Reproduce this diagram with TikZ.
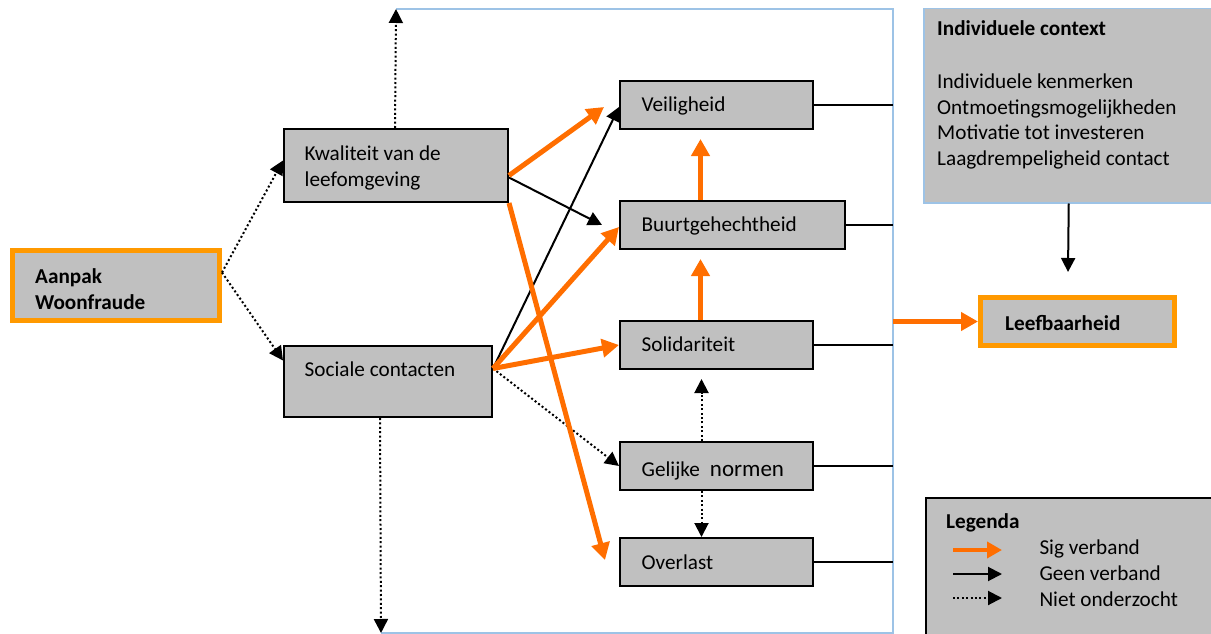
\documentclass[tikz,border=0pt]{standalone}
\usepackage{fontspec}
\setmainfont{Carlito}
\usetikzlibrary{arrows.meta}
\definecolor{arrorange}{RGB}{255,110,0}
\definecolor{boxorange}{RGB}{255,153,0}
\definecolor{boxgray}{RGB}{192,192,192}
\definecolor{framblue}{RGB}{157,195,230}
\tikzset{
  every node/.style={font=\fontsize{21.2}{26}\selectfont},
  txt/.style={anchor=base west, inner sep=0pt},
  gbox/.style={draw=black, line width=2pt, fill=boxgray, rectangle, inner sep=0pt},
  obox/.style={draw=boxorange, line width=5pt, fill=boxgray, rectangle, inner sep=0pt},
  sigarr/.style={draw=arrorange, line width=5pt, -{Triangle[length=17pt,width=18pt]}},
  geenarr/.style={draw=black, line width=2pt, -{Triangle[length=14pt,width=14pt]}},
  nietarr/.style={draw=black, line width=2pt, dash pattern=on 2pt off 2.4pt, -{Triangle[length=14pt,width=14pt]}},
  plain/.style={draw=black, line width=2pt},
}
\begin{document}
\begin{tikzpicture}[x=1pt,y=-1pt]
\useasboundingbox (0,0) rectangle (1211,634);
% frame
\coordinate (ftl) at (396,9);
\coordinate (ftr) at (893,9);
\coordinate (fbr) at (893,633);
\coordinate (fbl) at (381,633);
\draw[framblue, line width=2pt] (ftl) -- (ftr) -- (fbr) -- (fbl);

% boxes
\node[obox, minimum width=207pt, minimum height=70pt] (aanpak) at (116,285.5) {};
\node[gbox, minimum width=224pt, minimum height=73pt] (kw) at (396,165.5) {};
\node[gbox, minimum width=208pt, minimum height=71pt] (soc) at (388,381.5) {};
\node[gbox, minimum width=193pt, minimum height=48pt] (veil) at (716.5,105) {};
\node[gbox, minimum width=225pt, minimum height=48pt] (buurt) at (732.5,225) {};
\node[gbox, minimum width=193pt, minimum height=48pt] (solid) at (716.5,345) {};
\node[gbox, minimum width=193pt, minimum height=48pt] (gel) at (716.5,466) {};
\node[gbox, minimum width=193pt, minimum height=48pt] (over) at (716.5,562) {};
\node[obox, minimum width=194pt, minimum height=48pt] (leef) at (1077.5,321.5) {};
\node[draw=framblue, line width=1.5pt, fill=boxgray, minimum width=290pt, minimum height=194pt, anchor=north west, inner sep=0pt] (ctx) at (923,8) {};
\node[gbox, minimum width=290pt, minimum height=150pt, anchor=north west] (leg) at (925,497) {};

% texts
\node[txt] (t1) at (35,283.5) {\textbf{Aanpak}};
\node[txt] (t2) at (35,309.5) {\textbf{Woonfraude}};
\node[txt] (t3) at (304.5,160.7) {Kwaliteit van de};
\node[txt] (t4) at (304.5,186.7) {leefomgeving};
\node[txt] (t5) at (304.5,376.7) {Sociale contacten};
\node[txt] (t6) at (641.5,111.7) {Veiligheid};
\node[txt] (t7) at (641.5,231.7) {Buurtgehechtheid};
\node[txt] (t8) at (641.5,351.7) {Solidariteit};
\node[txt] (t9) at (641.5,476.5) {Gelijke\hspace{10pt}{\fontsize{23}{26}\selectfont normen}};
\node[txt] (t10) at (641.5,569.3) {Overlast};
\node[txt] (t11) at (1005,330) {\textbf{Leefbaarheid}};
\node[txt] (t12) at (937,36) {\textbf{Individuele context}};
\node[txt] (t13) at (937,88.3) {Individuele kenmerken};
\node[txt] (t14) at (937,114) {Ontmoetingsmogelijkheden};
\node[txt] (t15) at (937,139.7) {Motivatie tot investeren};
\node[txt] (t16) at (937,165.4) {Laagdrempeligheid contact};
\node[txt] (legt) at (946,528) {\textbf{Legenda}};
\node[txt] (l1) at (1039.3,554) {Sig verband};
\node[txt] (l2) at (1039.3,580) {Geen verband};
\node[txt] (l3) at (1039.3,606.5) {Niet onderzocht};

% legend arrows
\coordinate (l1a) at (953,550);
\coordinate (l1b) at (1002,550);
\coordinate (l2a) at (953,574);
\coordinate (l2b) at (1002,574);
\coordinate (l3a) at (953,598);
\coordinate (l3b) at (1002,598);
\draw[sigarr, line width=4.5pt, -{Triangle[length=15pt,width=16pt]}] (l1a) -- (l1b);
\draw[geenarr] (l2a) -- (l2b);
\draw[nietarr] (l3a) -- (l3b);

% right lines to frame
\draw[plain] (veil.east) -- (veil.east -| ftr);
\draw[plain] (buurt.east) -- (buurt.east -| ftr);
\draw[plain] (solid.east) -- (solid.east -| ftr);
\draw[plain] (gel.east) -- (gel.east -| ftr);
\draw[plain] (over.east) -- (over.east -| ftr);

% connectors
\draw[nietarr] ([yshift=13pt]aanpak.east) -- ([yshift=5pt]kw.west);
\draw[nietarr] ([yshift=13pt]aanpak.east) -- ([yshift=21pt]soc.west);
\draw[nietarr] ([xshift=-1pt]kw.north) -- (ftl);
\draw[nietarr] ([xshift=-8pt]soc.south) -- (fbl);
\draw[geenarr] ([yshift=-12pt]kw.east) -- ([xshift=-17pt]buurt.west);
\draw[geenarr] ([yshift=13pt]soc.east) -- ([yshift=-2pt]veil.west);
\draw[nietarr] ([yshift=13pt]soc.east) -- (gel.west);
\draw[sigarr] ([yshift=-10pt]kw.east) -- ([xshift=-15pt,yshift=-2pt]veil.west);
\draw[sigarr] (kw.south east) -- ([xshift=-14pt,yshift=2pt]over.west);
\draw[sigarr] ([yshift=13pt]soc.east) -- ([yshift=-2pt]buurt.west);
\draw[sigarr] ([yshift=13pt]soc.east) -- (solid.west);
\draw[sigarr] ([xshift=-32pt]buurt.north) -- ([xshift=-16pt,yshift=-9pt]veil.south);
\draw[sigarr] ([xshift=-16pt]solid.north) -- ([xshift=-32pt,yshift=-9pt]buurt.south);
\draw[nietarr] ([xshift=-15pt]gel.north) -- ([xshift=-15pt,yshift=-9pt]solid.south);
\draw[nietarr] ([xshift=-15pt]gel.south) -- ([xshift=-15pt]over.north);
\draw[sigarr] (leef.west -| ftr) -- (leef.west);
\draw[geenarr] (ctx.south) -- ([xshift=-9.5pt,yshift=23pt]leef.north);
\end{tikzpicture}
\end{document}
